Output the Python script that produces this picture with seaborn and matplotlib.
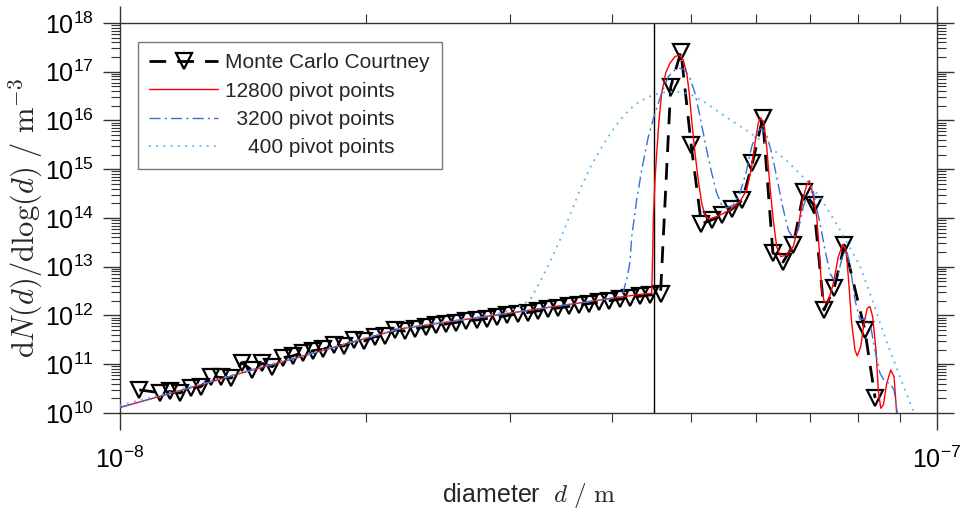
import numpy as np
import pandas as pd
import matplotlib
matplotlib.use("Agg")
import matplotlib.pyplot as plt
import seaborn as sns
from matplotlib.ticker import LogLocator, NullFormatter

# ---------------- data (diameter in nm, dN/dlog(d) in m^-3) ----------------
mc_d_nm = [10.56, 11.19, 11.52, 11.85, 12.20, 12.56, 12.92, 13.30, 13.69, 14.09,
           14.50, 14.93, 15.36, 15.81, 16.27, 16.75, 17.24, 17.74, 18.26, 18.79,
           19.34, 19.91, 20.49, 21.09, 21.71, 22.34, 22.99, 23.66, 24.35, 25.06,
           25.80, 26.55, 27.33, 28.13, 28.95, 29.79, 30.66, 31.56, 32.48, 33.43,
           34.40, 35.41, 36.44, 37.51, 38.60, 39.73, 40.89, 42.08, 43.31, 44.58,
           45.88, 47.22, 48.60, 50.02, 51.48, 52.98, 54.53, 56.12, 57.77, 59.45,
           61.19, 62.98, 64.82, 66.71, 68.66, 70.66, 72.73, 74.85, 77.04, 81.60,
           84.00]
mc_n = [2.97e10, 2.61e10, 2.76e10, 2.57e10, 3.26e10, 3.46e10, 5.55e10, 5.35e10, 5.22e10, 1.08e11,
        7.62e10, 1.04e11, 8.91e10, 1.36e11, 1.48e11, 1.73e11, 1.90e11, 2.03e11, 2.48e11, 2.37e11,
        3.14e11, 3.00e11, 3.67e11, 3.79e11, 5.05e11, 4.81e11, 5.38e11, 5.81e11, 6.24e11, 6.70e11,
        7.18e11, 7.71e11, 8.09e11, 8.67e11, 9.31e11, 1.00e12, 1.07e12, 1.15e12, 1.24e12, 1.33e12,
        1.43e12, 1.53e12, 1.64e12, 1.75e12, 1.89e12, 2.01e12, 2.16e12, 2.32e12, 2.48e12, 2.64e12,
        2.76e12, 4.93e16, 2.58e17, 3.14e15, 7.53e13, 9.10e13, 1.15e14, 1.53e14, 2.34e14, 1.34e15,
        1.12e16, 1.91e13, 1.25e13, 2.79e13, 3.41e14, 1.85e14, 1.30e12, 3.66e12, 2.79e13, 5.05e11,
        2.03e10]

p12800_d_nm = [10.00, 11.19, 12.53, 14.42, 16.61, 19.12, 22.02, 25.35, 29.19, 33.60,
               38.69, 43.30, 44.75, 44.88, 44.96, 45.17, 45.39, 45.69, 46.03, 46.55,
               47.12, 47.79, 48.37, 48.92, 49.39, 49.75, 50.09, 50.56, 51.03, 51.52,
               52.00, 52.49, 53.75, 55.80, 57.40, 58.49, 59.32, 59.88, 60.43, 60.84,
               61.41, 61.88, 62.46, 63.04, 63.65, 64.37, 65.47, 66.70, 67.65, 68.49,
               69.27, 69.78, 70.45, 71.25, 71.77, 72.26, 72.79, 73.62, 74.67, 75.73,
               76.68, 77.39, 77.89, 78.64, 79.37, 79.89, 80.66, 81.41, 82.17, 82.80,
               83.43, 84.21, 84.76, 85.34, 85.97, 86.80, 87.78, 88.60, 89.27, 89.86]
p12800_n = [1.30e10, 2.20e10, 3.75e10, 7.38e10, 1.42e11, 2.75e11, 5.33e11, 7.50e11, 1.05e12, 1.48e12,
            2.08e12, 2.72e12, 2.85e12, 1.91e13, 9.10e13, 6.01e14, 2.15e15, 1.02e16, 3.66e16, 9.42e16,
            1.51e17, 2.04e17, 2.21e17, 1.74e17, 9.42e16, 3.66e16, 1.02e16, 2.15e15, 6.01e14, 2.03e14,
            1.15e14, 9.53e13, 1.06e14, 1.46e14, 2.16e14, 3.75e14, 1.13e15, 3.45e15, 8.89e15, 1.14e16,
            8.89e15, 2.90e15, 4.39e14, 9.10e13, 2.58e13, 1.61e13, 1.74e13, 2.58e13, 6.64e13, 2.34e14,
            4.75e14, 5.82e14, 3.26e14, 1.06e14, 2.21e13, 3.34e12, 1.92e12, 1.92e12, 4.57e12, 1.61e13,
            2.89e13, 2.21e13, 6.25e12, 6.92e11, 1.96e11, 1.48e11, 2.29e11, 6.92e11, 1.41e12, 1.52e12,
            9.44e11, 1.96e11, 2.97e10, 1.25e10, 1.46e10, 4.06e10, 7.62e10, 5.56e10, 9.86e9, 1.09e9]

p3200_d_nm = [10.00, 11.19, 12.53, 14.42, 16.61, 19.12, 22.02, 25.35, 29.19, 33.60,
              38.69, 40.70, 41.28, 41.78, 42.10, 42.30, 42.90, 43.51, 44.33, 45.17,
              46.03, 46.89, 47.79, 48.46, 49.16, 49.86, 50.56, 51.28, 52.15, 53.00,
              53.75, 54.51, 55.28, 56.32, 57.40, 58.38, 59.32, 60.26, 61.01, 61.88,
              62.76, 63.65, 64.73, 65.76, 66.70, 67.65, 68.61, 69.58, 70.57, 71.91,
              72.94, 73.97, 74.81, 75.73, 76.80, 77.54, 78.42, 79.37, 80.50, 81.87,
              82.96, 83.97, 85.17, 86.38, 87.60, 88.60, 89.43, 89.86]
p3200_n = [1.30e10, 2.20e10, 3.75e10, 7.38e10, 1.42e11, 2.75e11, 5.33e11, 7.50e11, 1.05e12, 1.48e12,
           2.08e12, 2.39e12, 2.90e12, 6.25e12, 1.25e13, 4.13e13, 2.34e14, 9.66e14, 4.66e15, 1.43e16,
           3.66e16, 7.91e16, 1.09e17, 1.18e17, 1.09e17, 7.34e16, 3.66e16, 1.20e16, 2.90e15, 8.37e14,
           3.26e14, 1.85e14, 1.60e14, 1.85e14, 3.26e14, 8.37e14, 2.90e15, 5.89e15, 6.92e15, 5.05e15,
           2.15e15, 7.03e14, 1.71e14, 5.68e13, 3.84e13, 5.68e13, 1.71e14, 3.26e14, 3.46e14, 7.78e13,
           2.21e13, 7.35e12, 5.35e12, 7.35e12, 1.89e13, 2.21e13, 8.57e12, 2.08e12, 8.09e11, 8.77e11,
           5.89e11, 1.96e11, 6.52e10, 4.39e10, 4.06e10, 2.97e10, 9.86e9, 1.09e9]

p400_d_nm = [10.00, 11.19, 12.53, 14.42, 16.61, 19.12, 22.02, 25.35, 29.19, 30.45,
             31.77, 32.66, 33.60, 34.56, 35.54, 36.56, 37.60, 38.69, 39.79, 40.93,
             42.10, 43.30, 44.92, 46.59, 48.46, 49.86, 52.15, 55.17, 58.38, 61.76,
             65.34, 69.14, 71.91, 76.10, 80.50, 83.50, 86.80, 90.11, 93.12, 94.25]
p400_n = [1.43e10, 2.34e10, 3.94e10, 7.62e10, 1.48e11, 2.86e11, 5.41e11, 7.71e11, 1.12e12, 1.36e12,
          2.08e12, 4.86e12, 1.25e13, 3.54e13, 1.15e14, 3.75e14, 1.06e15, 2.48e15, 5.28e15, 1.02e16,
          1.72e16, 2.51e16, 3.33e16, 3.84e16, 3.84e16, 3.50e16, 2.29e16, 1.18e16, 6.38e15, 3.30e15,
          1.55e15, 6.01e14, 2.70e14, 5.68e13, 1.04e13, 1.89e12, 2.86e11, 5.47e10, 1.33e10, 7.89e9]

threshold_d_nm = 45.0

labels = ["Monte Carlo Courtney", "12800 pivot points", "  3200 pivot points", "    400 pivot points"]

# ---------------- figure ----------------
sns.set_theme(style="ticks")
plt.rcParams['font.family'] = ['Liberation Sans', 'DejaVu Sans']
plt.rcParams['mathtext.fontset'] = 'cm'

fig, ax = plt.subplots(figsize=(9.6, 5.11), dpi=100)
fig.subplots_adjust(left=0.125, right=0.976, bottom=0.1918, top=0.955)

nm = 1e-9
df_mc = pd.DataFrame({"d": np.array(mc_d_nm) * nm, "n": mc_n})
df_r = pd.DataFrame({"d": np.array(p12800_d_nm) * nm, "n": p12800_n})
df_b = pd.DataFrame({"d": np.array(p3200_d_nm) * nm, "n": p3200_n})
df_c = pd.DataFrame({"d": np.array(p400_d_nm) * nm, "n": p400_n})

sns.lineplot(data=df_mc, x="d", y="n", ax=ax, color="black", linewidth=2.0,
             linestyle=(0, (6, 4)), marker="v", markersize=11, markerfacecolor="none",
             markeredgecolor="black", markeredgewidth=1.6, estimator=None, sort=False,
             label=labels[0], zorder=3)
sns.lineplot(data=df_r, x="d", y="n", ax=ax, color="#ff0000", linewidth=1.0,
             estimator=None, sort=False, label=labels[1], zorder=4)
sns.lineplot(data=df_b, x="d", y="n", ax=ax, color="#3a6fd8", linewidth=1.0,
             linestyle=(0, (8, 3, 1.5, 3)), estimator=None, sort=False, label=labels[2], zorder=4)
sns.lineplot(data=df_c, x="d", y="n", ax=ax, color="#5ab4f0", linewidth=1.3,
             linestyle=(0, (1, 3)), estimator=None, sort=False, label=labels[3], zorder=4)

ax.axvline(threshold_d_nm * nm, color="black", linewidth=1.0, zorder=2)

ax.set_xscale("log")
ax.set_yscale("log")
ax.set_xlim(1e-8, 1e-7)
ax.set_ylim(1e10, 1e18)

ax.xaxis.set_major_locator(LogLocator(base=10, numticks=20))
ax.xaxis.set_minor_locator(LogLocator(base=10, subs=np.arange(2, 10), numticks=20))
ax.yaxis.set_major_locator(LogLocator(base=10, numticks=20))
ax.yaxis.set_minor_locator(LogLocator(base=10, subs=np.arange(2, 10), numticks=20))
ax.xaxis.set_minor_formatter(NullFormatter())
ax.yaxis.set_minor_formatter(NullFormatter())

ax.tick_params(which="both", direction="out", top=True, right=True,
               colors="#333333", labelcolor="black")
ax.tick_params(which="major", length=12, width=1.0, labelsize=18, pad=7)
ax.tick_params(axis="x", which="major", pad=12)
ax.tick_params(which="minor", length=6.5, width=0.8)
for s in ax.spines.values():
    s.set_linewidth(1.0)
    s.set_color("#333333")

ax.set_xlabel(r"diameter  $d\ /\ \mathrm{m}$", fontsize=18, labelpad=6)
ax.set_ylabel(r"$\mathrm{d}N(d)/\mathrm{d}\log(d)\ /\ \mathrm{m}^{-3}$", fontsize=22, labelpad=0)

leg = ax.legend(loc="upper left", bbox_to_anchor=(0.022, 0.952), borderaxespad=0,
                fontsize=15, frameon=True, fancybox=False, handlelength=3.3,
                handletextpad=0.35, labelspacing=0.45, borderpad=0.55)
leg.get_frame().set_edgecolor("#555555")
leg.get_frame().set_linewidth(1.0)

fig.savefig("out.png", dpi=100)
